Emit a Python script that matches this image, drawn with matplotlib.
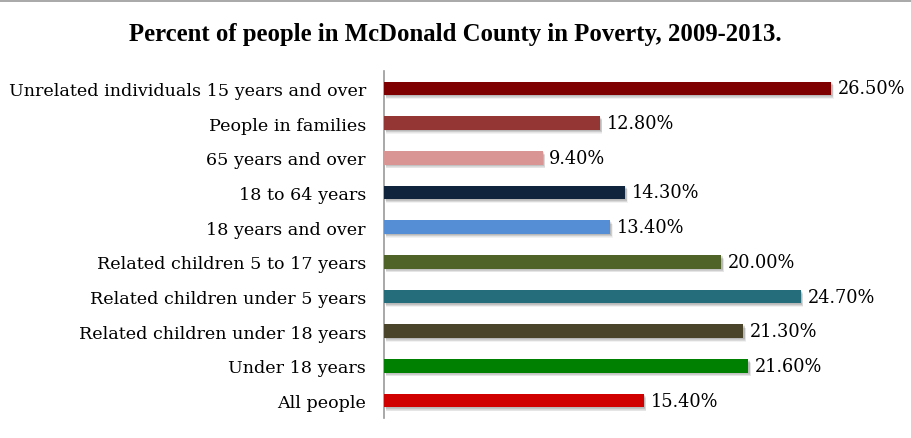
import matplotlib
matplotlib.use("Agg")
import matplotlib.pyplot as plt
from matplotlib.patches import Rectangle

categories = [
    "Unrelated individuals 15 years and over",
    "People in families",
    "65 years and over",
    "18 to 64 years",
    "18 years and over",
    "Related children 5 to 17 years",
    "Related children under 5 years",
    "Related children under 18 years",
    "Under 18 years",
    "All people",
]
values = [26.5, 12.8, 9.4, 14.3, 13.4, 20.0, 24.7, 21.3, 21.6, 15.4]
colors = ["#7F0000", "#943634", "#D99594", "#10243E", "#558ED5",
          "#4F6228", "#256D7B", "#4A452A", "#008000", "#D00000"]

fig = plt.figure(figsize=(9.11, 4.39), dpi=100)
ax = fig.add_axes([384 / 911, 20 / 439, 464 / 911, 347 / 439])

n = len(categories)
ypos = list(range(n))[::-1]
bar_h = 0.39

# soft drop shadow under each bar
for y, v in zip(ypos, values):
    for k in range(6):
        off = 0.6 + k * 0.5
        ax.add_patch(Rectangle((0.05 + off * 0.03, y - bar_h / 2 - off * 0.035),
                               v, bar_h, facecolor="#000000", alpha=0.05,
                               edgecolor="none", zorder=1))

ax.barh(ypos, values, height=bar_h, color=colors, zorder=3)

for y, v in zip(ypos, values):
    ax.text(v + 0.4, y, f"{v:.2f}%", va="center", ha="left",
            fontsize=12.8, family="DejaVu Serif", color="#000000")

ax.set_xlim(0, 27.5)
ax.set_ylim(-0.5, n - 0.5)
ax.set_yticks(ypos)
ax.set_yticklabels(categories, family="DejaVu Serif", fontsize=12.6)
ax.tick_params(axis="y", length=0, pad=13)
ax.set_xticks([])
for s in ["top", "right", "bottom"]:
    ax.spines[s].set_visible(False)
ax.spines["left"].set_color("#999999")
ax.spines["left"].set_linewidth(1.2)

fig.text(0.5, 1 - 34 / 439, "Percent of people in McDonald County in Poverty, 2009-2013.",
         ha="center", va="center", fontsize=17.8, fontweight="bold",
         family="Liberation Serif")

# thin gray rule along the top edge
fig.add_artist(plt.Line2D([0, 1], [1 - 2 / 439, 1 - 2 / 439], color="#999999",
                          linewidth=1.2, transform=fig.transFigure))

fig.savefig("out.png", dpi=100)
